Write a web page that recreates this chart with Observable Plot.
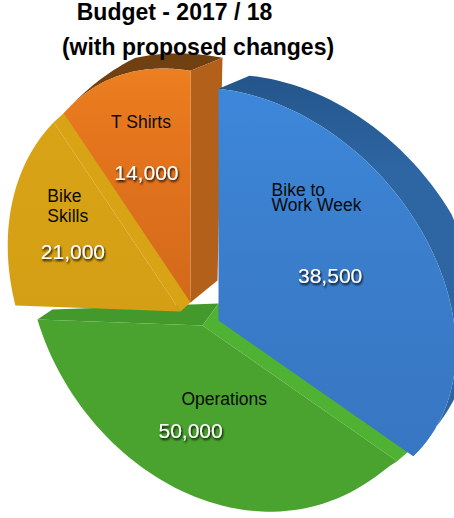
<!DOCTYPE html>
<html>
<head>
<meta charset="utf-8">
<style>
html,body{margin:0;padding:0;background:#fff}
</style>
<script src="https://cdn.jsdelivr.net/npm/d3@7"></script>
<script src="https://cdn.jsdelivr.net/npm/@observablehq/plot@0.6"></script>
</head>
<body>
<script>
// ---- data ----
const titleLines = ["Budget - 2017 / 18", "(with proposed changes)"];
const names = ["Bike to\nWork Week", "Operations", "Bike\nSkills", "T Shirts"];
const values = [38500, 50000, 21000, 14000];

// ---- styling / layout of the perspective pie ----
const FONT = "'Liberation Sans', Arial, sans-serif";
const faceFill = ["url(#fBlue)", "#49a32e", "url(#fYellow)", "url(#fOrange)"];
const rimFill = ["url(#rBlue)", "#43992c", "#d9a516", "url(#rOrange)"];
const endFill = ["#2b5f9a", "#50b233", "#d8a416", "#b3611a"];
const apex = [[218, 320], [202, 325], [180, 311], [190, 302]];
const bulge = [0.05, -0.07, 0, 0.01];
const bulgeSkew = [2, 0.7, 1, 1];
const rimDepth = [
  [[31, -13], [31, -15], [0, -6]],
  [[14, -12], [16, -10], [15, -10]],
  [[12, -11], [12, -11], [12, -11]],
  [[0, 0], [17, -18], [32, -13]]
];
const apexDepth = [[0, 0], [16, -22], [12, -11], [27, -22]];
const labelAt = [[0.40, 0.52], [0.52, 0.40], [0.5, 0.62], [0.5, 0.62]];
const labelOff = [
  {dx: -25, dy: -59, anchor: "start", lh: 0.83}, {dx: 32, dy: -1, anchor: "middle", lh: 1},
  {dx: -25, dy: -39, anchor: "start", lh: 1.17}, {dx: -6, dy: -44, anchor: "middle", lh: 1}
];
const valueAt = [[0.62, 0.55], [0.62, 0.52], [0.28, 0.62], [0.5, 0.42]];
const valueOff = [{dx: 2, dy: -30}, {dx: 24, dy: 24}, {dx: 4, dy: -19}, {dx: -15, dy: -38}];

// disc → screen homography (view of the tilted pie)
function project(theta, r) {
  const u = r * Math.sin(theta), v = r * Math.cos(theta);
  const w = 1 - 0.129 * u - 0.111 * v;
  return [194 * u / w, (51 * u - 206 * v) / w];
}

const total = d3.sum(values);
const angles = d3.cumsum(values).map(c => c / total * 2 * Math.PI);
const slices = values.map((v, i) => ({i, a0: i ? angles[i - 1] : 0, a1: angles[i]}));

function rimPoint(s, t) {
  const th = s.a0 + (s.a1 - s.a0) * t;
  const [x, y] = project(th, 1 + bulge[s.i] * Math.sin(Math.PI * Math.pow(t, bulgeSkew[s.i])));
  return [apex[s.i][0] + x, apex[s.i][1] + y];
}
function inner(s, t, r) {
  const [x, y] = project(s.a0 + (s.a1 - s.a0) * t, r);
  return {x: apex[s.i][0] + x, y: apex[s.i][1] + y};
}
function depthAt(s, t) {
  const [a, b, c] = rimDepth[s.i];
  const l = (p, q, k) => [p[0] + (q[0] - p[0]) * k, p[1] + (q[1] - p[1]) * k];
  return t < 0.5 ? l(a, b, t * 2) : l(b, c, (t - 0.5) * 2);
}
const steps = d3.range(0, 61).map(k => k / 60);
const P = ([x, y]) => ({x, y});

function facePoly(s) {
  return [P(apex[s.i]), ...steps.map(t => P(rimPoint(s, t)))];
}
function rimPoly(s) {
  const front = steps.map(t => rimPoint(s, t));
  const back = steps.map(t => {
    const p = rimPoint(s, t), d = depthAt(s, t);
    return [p[0] + d[0], p[1] + d[1]];
  });
  return [...front, ...back.reverse()].map(P);
}
function endPoly(s, t) {
  const a = apex[s.i], d = apexDepth[s.i], p = rimPoint(s, t), q = depthAt(s, t);
  return [a, p, [p[0] + q[0], p[1] + q[1]], [a[0] + d[0], a[1] + d[1]]].map(P);
}

const poly = (pts, fill) => Plot.line(pts, {x: "x", y: "y", fill, stroke: "none"});
const [blue, green, yellow, orange] = slices;

const defs = () => {
  const svg = d3.create("svg:g");
  const d = svg.append("defs");
  const grad = (id, stops) => {
    const g = d.append("linearGradient").attr("id", id).attr("x1", 0).attr("y1", 0).attr("x2", 0).attr("y2", 1);
    stops.forEach(([o, c]) => g.append("stop").attr("offset", o).attr("stop-color", c));
  };
  grad("fBlue", [[0, "#3d87da"], [0.5, "#3a7dca"], [1, "#3776c2"]]);
  grad("rBlue", [[0, "#24558a"], [0.25, "#2d66a3"], [1, "#2c64a0"]]);
  grad("fYellow", [[0, "#d8a315"], [1, "#d49f14"]]);
  grad("fOrange", [[0, "#ec7f20"], [0.3, "#e5751d"], [1, "#d2691a"]]);
  grad("rOrange", [[0, "#6e3f10"], [1, "#7a4512"]]);
  const f = d.append("filter").attr("id", "valueShadow")
    .attr("x", "-20%").attr("y", "-40%").attr("width", "140%").attr("height", "180%");
  f.append("feDropShadow").attr("dx", 1).attr("dy", 1.8).attr("stdDeviation", 1)
    .attr("flood-color", "#000").attr("flood-opacity", 1);
  return svg.node();
};

const nameRows = slices.map(s => {
  const p = inner(s, labelAt[s.i][0], labelAt[s.i][1]);
  return {...p, text: names[s.i], ...labelOff[s.i]};
});
const valueRows = slices.map(s => ({
  ...inner(s, valueAt[s.i][0], valueAt[s.i][1]),
  text: d3.format(",")(values[s.i]), ...valueOff[s.i]
}));

const chart = Plot.plot({
  width: 454, height: 518, margin: 0,
  x: {domain: [0, 454], range: [0, 454], axis: null},
  y: {domain: [0, 518], range: [0, 518], axis: null},
  style: {background: "#fff", fontFamily: FONT},
  marks: [
    defs,
    // Operations
    poly(endPoly(green, 1), "#43992c"),
    poly(endPoly(green, 0), endFill[1]),
    poly(facePoly(green), faceFill[1]),
    // Bike Skills
    poly(endPoly(yellow, 1), endFill[2]),
    poly(facePoly(yellow), faceFill[2]),
    // T Shirts
    poly(rimPoly(orange), rimFill[3]),
    poly(endPoly(orange, 1), endFill[3]),
    poly(facePoly(orange), faceFill[3]),
    // Bike to Work Week
    poly(rimPoly(blue), rimFill[0]),
    poly(facePoly(blue), faceFill[0]),
    // labels
    ...nameRows.map(r => Plot.text([r], {
      x: "x", y: "y", text: "text", dx: r.dx, dy: r.dy, textAnchor: r.anchor,
      fontSize: 17.5, fill: "#0a0a0a", lineHeight: r.lh
    })),
    ...valueRows.map(r => Plot.text([r], {
      x: "x", y: "y", text: "text", dx: r.dx, dy: r.dy, fontSize: 21, fill: "#fff"
    })),
    Plot.text([titleLines[0]], {text: d => d, frameAnchor: "top-left", dx: 174, dy: 12, textAnchor: "middle", lineAnchor: "middle", fontSize: 23, fontWeight: "bold", fill: "#000"}),
    Plot.text([titleLines[1]], {text: d => d, frameAnchor: "top-left", dx: 197.5, dy: 47, textAnchor: "middle", lineAnchor: "middle", fontSize: 23, fontWeight: "bold", fill: "#000"})
  ]
});
// soft drop shadow behind the white value labels
chart.querySelectorAll("text").forEach(t => {
  if (/^\d+,\d+$/.test(t.textContent.trim())) t.setAttribute("filter", "url(#valueShadow)");
});
document.body.appendChild(chart);
</script>
</body>
</html>
